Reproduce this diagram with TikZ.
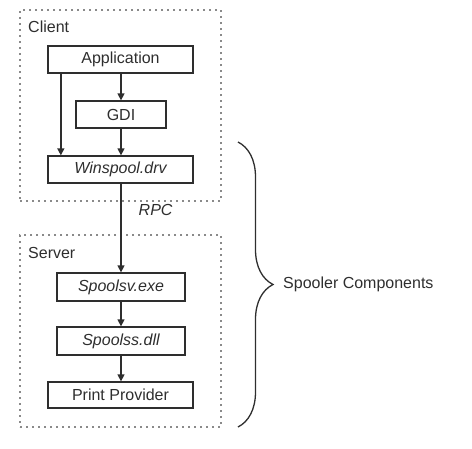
\documentclass[tikz,border=0pt]{standalone}
\usepackage{fontspec}
\setmainfont{Liberation Sans}
\usepackage{xcolor}
\definecolor{Ink}{HTML}{2E2E2E}
\definecolor{Dots}{HTML}{8A8A8A}
\usepackage{tikz}
\usetikzlibrary{arrows.meta,positioning,decorations.pathreplacing}
\tikzset{
  comp/.style={draw=Ink,line width=1.3pt,rectangle,minimum height=27pt,
    inner sep=0pt,text=Ink,font=\fontsize{16}{18}\selectfont},
  compit/.style={comp,font=\fontsize{16}{18}\selectfont\itshape},
  group/.style={draw=Dots,line width=1.6pt,dash pattern=on 1.6pt off 4.4pt,
    rectangle,inner sep=0pt},
  tag/.style={text=Ink,font=\fontsize{16}{18}\selectfont,inner sep=0pt},
  arrow/.style={-{Triangle[length=7pt,width=7pt]},line width=1.4pt,color=Ink}
}

\begin{document}
\begin{tikzpicture}[x=1pt,y=-1pt]
  \useasboundingbox (0,0) rectangle (472,448);
  % client side
  \node[group,minimum width=201pt,minimum height=191pt] (client) at (120.5,105.5) {};
  \node[tag,anchor=west] (clientlbl) at (28,27) {Client};
  \node[comp,minimum width=145pt] (app) at (120.5,59.5) {Application};
  \node[comp,minimum width=90pt] (gdi) at (121,114.5) {GDI};
  \node[compit,minimum width=145pt] (winspool) at (120.5,169.5) {Winspool.drv};
  % server side
  \node[group,minimum width=201pt,minimum height=192pt] (server) at (120.5,331) {};
  \node[tag,anchor=west] (serverlbl) at (28,253) {Server};
  \node[compit,minimum width=128pt,minimum height=28pt] (spoolsv) at (121,287) {Spoolsv.exe};
  \node[compit,minimum width=128pt,minimum height=28pt] (spoolss) at (121,341) {Spoolss.dll};
  \node[comp,minimum width=145pt,minimum height=26pt] (provider) at (120.5,395) {Print Provider};
  % arrows
  \draw[arrow] (app.south -| gdi) -- (gdi.north);
  \draw[arrow] (gdi.south) -- (gdi |- winspool.north);
  \draw[arrow] ([xshift=13.5pt]app.south west) -- ([xshift=13.5pt]winspool.north west);
  \draw[arrow] (winspool.south -| spoolsv) -- node[pos=0.3,right=17pt,tag,font=\fontsize{16}{18}\selectfont\itshape] (rpc) {RPC} (spoolsv.north);
  \draw[arrow] (spoolsv.south) -- (spoolss.north);
  \draw[arrow] (spoolss.south) -- (provider.north -| spoolss);
  % brace
  \coordinate (bracetop) at (238,142);
  \coordinate (bracebot) at (238,427);
  \draw[Ink,line width=1.3pt,decorate,decoration={brace,amplitude=35pt}]
    (bracetop) -- (bracebot);
  \node[tag,anchor=west] (spooler) at (283,284.5) {Spooler Components};
\end{tikzpicture}
\end{document}
